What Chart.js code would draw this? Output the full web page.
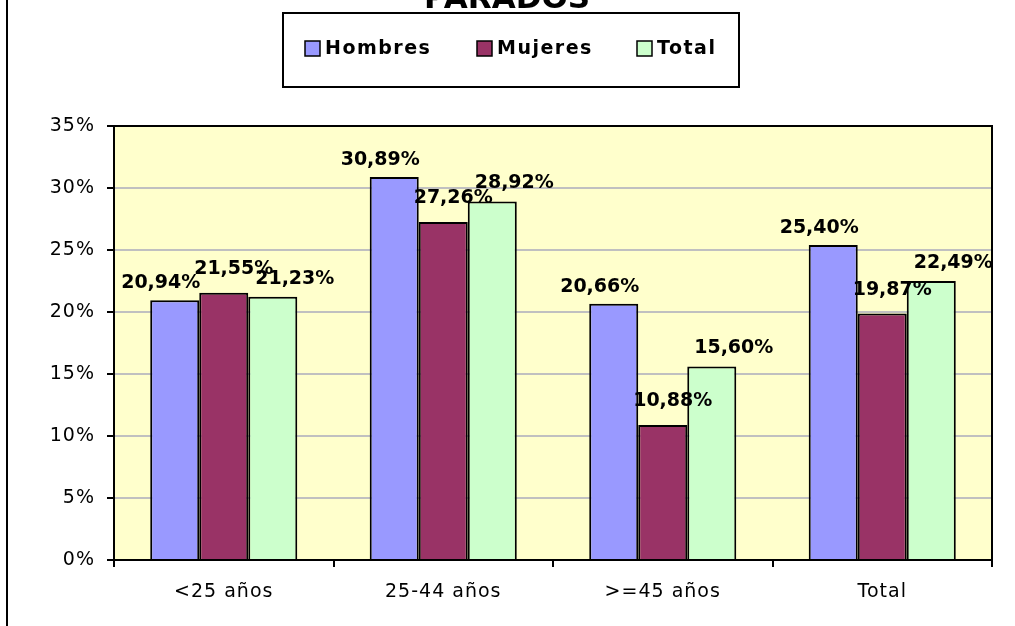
<!DOCTYPE html>
<html>
<head>
<meta charset="utf-8">
<script src="https://cdn.jsdelivr.net/npm/chart.js@4"></script>
<style>
  html, body { margin: 0; padding: 0; background: #fff; }
  #wrap { width: 1015px; height: 626px; }
</style>
</head>
<body>
<div id="wrap"><canvas id="grafico" width="1015" height="626"></canvas></div>
<script>
// datos
const categorias = ['<25 años', '25-44 años', '>=45 años', 'Total'];
const hombres = [20.94, 30.89, 20.66, 25.40];
const mujeres = [21.55, 27.26, 10.88, 19.87];
const total = [21.23, 28.92, 15.60, 22.49];
const ejeMin = 0;
const ejeMax = 35;
const ejePaso = 5;
const titulo = 'PARADOS';

const fuente = 'DejaVu Sans';
Chart.defaults.font.family = fuente;
Chart.defaults.color = '#000';

function formatoPct(v) {
    return v.toFixed(2).replace('.', ',') + '%';
}

// fondo amarillo y borde del area de trazado
const fondoPlot = {
    id: 'fondoPlot',
    beforeDraw(chart) {
        const {ctx, chartArea: a} = chart;
        ctx.save();
        ctx.fillStyle = '#fff';
        ctx.fillRect(0, 0, chart.width, chart.height);
        ctx.fillStyle = '#FFFFCC';
        ctx.fillRect(a.left, a.top, a.right - a.left, a.bottom - a.top);
        ctx.restore();
        // los textos de los ejes van un poco espaciados
        ctx.letterSpacing = '1px';
    },
    afterDraw(chart) {
        const {ctx, chartArea: a} = chart;
        ctx.save();
        ctx.strokeStyle = '#000';
        ctx.lineWidth = 2;
        ctx.strokeRect(a.left, a.top, a.right - a.left, a.bottom - a.top);
        // borde izquierdo del grafico
        ctx.beginPath();
        ctx.moveTo(7, 0);
        ctx.lineTo(7, chart.height);
        ctx.stroke();
        ctx.restore();
    }
};

// etiquetas de datos encima de cada barra
const etiquetas = {
    id: 'etiquetas',
    afterDatasetsDraw(chart) {
        const ctx = chart.ctx;
        ctx.save();
        ctx.letterSpacing = '0px';
        ctx.font = 'bold 19px ' + fuente;
        ctx.fillStyle = '#000';
        ctx.textAlign = 'center';
        ctx.textBaseline = 'middle';
        chart.data.datasets.forEach((ds, i) => {
            const meta = chart.getDatasetMeta(i);
            meta.data.forEach((bar, j) => {
                ctx.fillText(formatoPct(ds.data[j]), bar.x + ds.etiquetaDx, bar.y + ds.etiquetaDy);
            });
        });
        ctx.restore();
    }
};

// titulo y leyenda con recuadro
const leyenda = {
    id: 'leyenda',
    afterDraw(chart) {
        const ctx = chart.ctx;
        ctx.save();
        ctx.letterSpacing = '0px';
        ctx.fillStyle = '#000';
        ctx.font = 'bold 31px ' + fuente;
        ctx.textAlign = 'center';
        ctx.textBaseline = 'alphabetic';
        ctx.fillText(titulo, 507, 8);

        ctx.fillStyle = '#fff';
        ctx.fillRect(283, 13, 456, 74);
        ctx.strokeStyle = '#000';
        ctx.lineWidth = 2;
        ctx.strokeRect(283, 13, 456, 74);

        const posX = [305, 477, 637];
        ctx.font = 'bold 19px ' + fuente;
        ctx.textAlign = 'left';
        ctx.textBaseline = 'middle';
        ctx.letterSpacing = '1.5px';
        chart.data.datasets.forEach((ds, i) => {
            ctx.fillStyle = ds.backgroundColor;
            ctx.fillRect(posX[i], 41, 15, 15);
            ctx.lineWidth = 1.5;
            ctx.strokeRect(posX[i], 41, 15, 15);
            ctx.fillStyle = '#000';
            ctx.fillText(ds.label, posX[i] + 20, 49);
        });
        ctx.restore();
    }
};

const ctx = document.getElementById('grafico').getContext('2d');
const chart = new Chart(ctx, {
    type: 'bar',
    data: {
        labels: categorias,
        datasets: [
            {
                label: 'Hombres',
                data: hombres,
                backgroundColor: '#9999FF',
                borderColor: '#000',
                borderWidth: 2,
                etiquetaDx: -14,
                etiquetaDy: -17,
            },
            {
                label: 'Mujeres',
                data: mujeres,
                backgroundColor: '#993366',
                borderColor: '#000',
                borderWidth: 2,
                etiquetaDx: 10,
                etiquetaDy: -24,
            },
            {
                label: 'Total',
                data: total,
                backgroundColor: '#CCFFCC',
                borderColor: '#000',
                borderWidth: 2,
                etiquetaDx: 22,
                etiquetaDy: -18,
            },
        ],
    },
    options: {
        responsive: false,
        devicePixelRatio: 1,
        animation: false,
        layout: {
            padding: {top: 126, right: 23, bottom: 0, left: 0}
        },
        datasets: {
            bar: {
                categoryPercentage: 0.67,
                barPercentage: 1,
            }
        },
        plugins: {
            legend: {display: false},
            tooltip: {enabled: false},
        },
        scales: {
            x: {
                grid: {
                    offset: true,
                    drawOnChartArea: false,
                    color: '#000',
                    lineWidth: 2,
                    tickLength: 7,
                },
                border: {color: '#000', width: 2},
                ticks: {
                    font: {size: 19},
                    padding: 14,
                },
                afterFit(scale) {
                    scale.height = 66;
                },
            },
            y: {
                min: ejeMin,
                max: ejeMax,
                grid: {
                    color: '#C0C0C0',
                    lineWidth: 2,
                    tickColor: '#000',
                    tickLength: 7,
                },
                border: {color: '#000', width: 2},
                ticks: {
                    stepSize: ejePaso,
                    font: {size: 19},
                    padding: 12,
                    callback: v => v + '%',
                },
                afterFit(scale) {
                    scale.width = 114;
                },
            },
        },
    },
    plugins: [fondoPlot, etiquetas, leyenda],
});
</script>
</body>
</html>
